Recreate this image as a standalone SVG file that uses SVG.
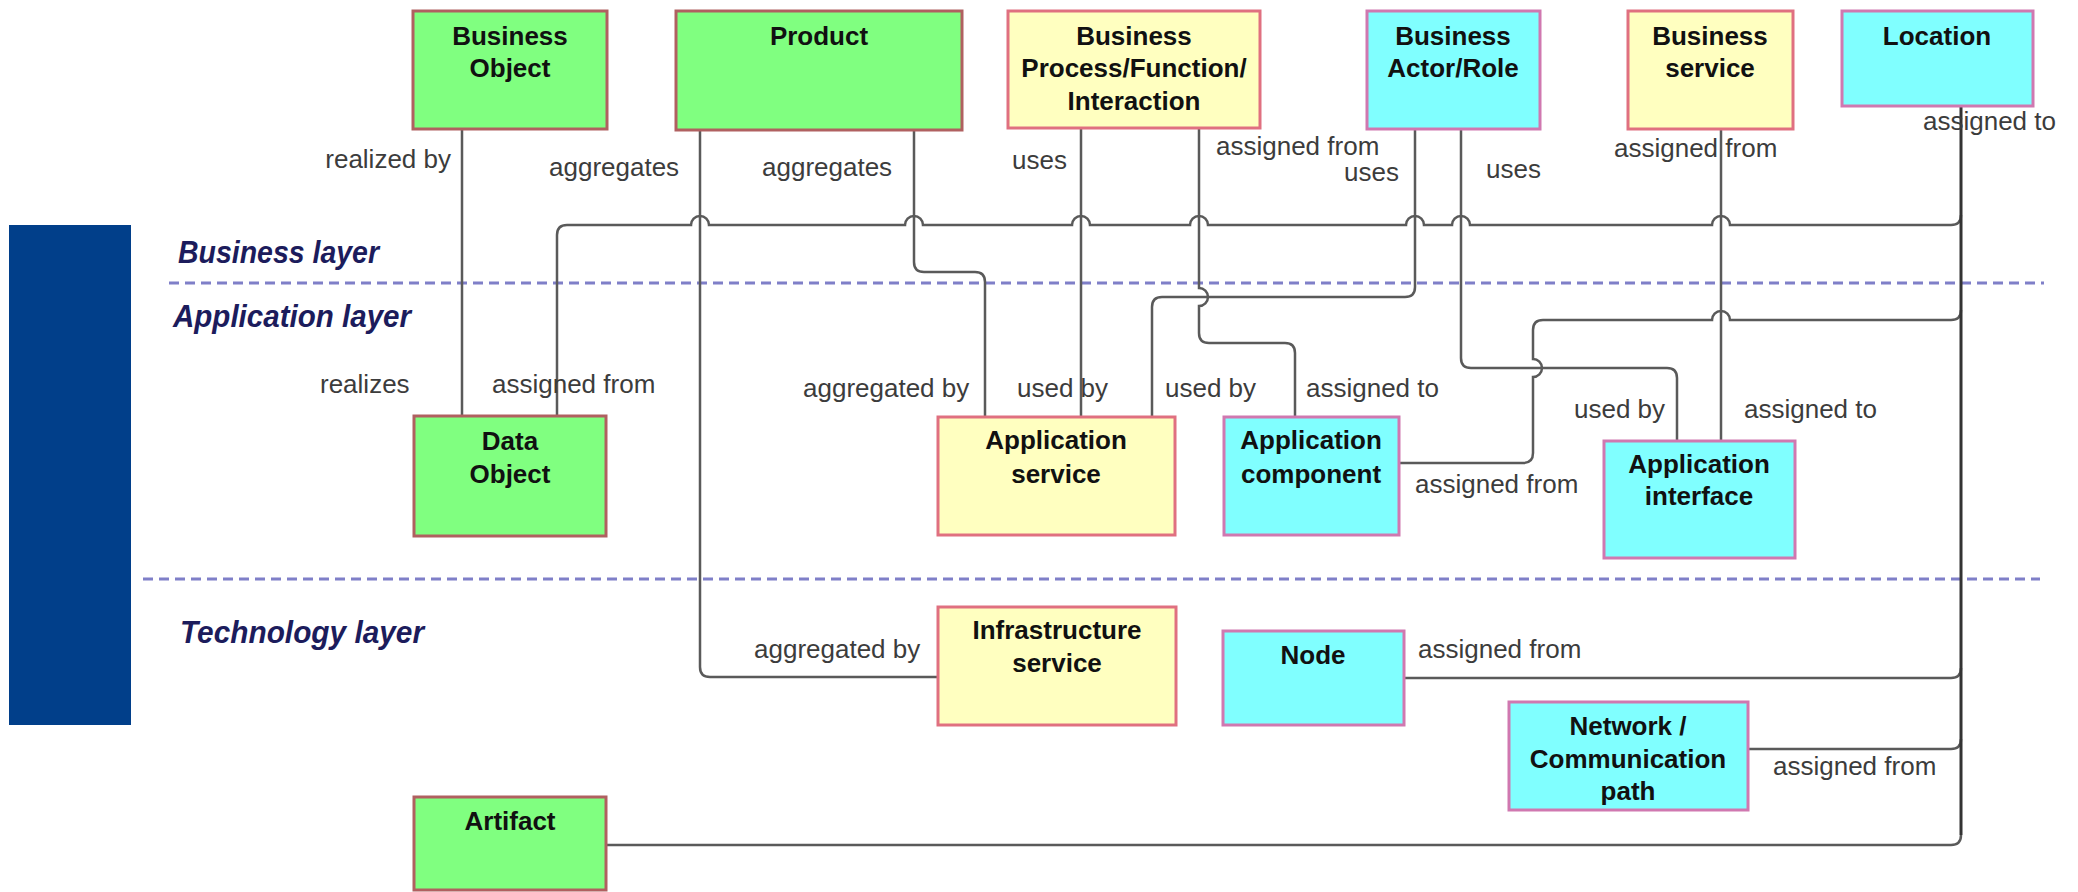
<svg xmlns="http://www.w3.org/2000/svg" width="2078" height="892" viewBox="0 0 2078 892">
<style>
.g{fill:#80FF80;stroke:#B06060;stroke-width:3}
.y{fill:#FFFFC0;stroke:#E07080;stroke-width:3}
.c{fill:#80FFFF;stroke:#D078B0;stroke-width:3}
.t{font-family:"Liberation Sans",Arial,sans-serif;font-weight:bold;font-size:26px;fill:#111;text-anchor:middle}
.l{font-family:"Liberation Sans",Arial,sans-serif;font-size:26px;fill:#3c3c3c}
.ly{font-family:"Liberation Sans",Arial,sans-serif;font-weight:bold;font-style:italic;font-size:31px;fill:#1c1c5c}
.cn{fill:none;stroke:#5a5a5a;stroke-width:2.5}
.loc{fill:none;stroke:#333;stroke-width:3}
.dash{stroke:#7F7FC8;stroke-width:3;stroke-dasharray:10 6}
</style>
<rect width="2078" height="892" fill="#fff"/>
<rect x="9" y="225" width="122" height="500" fill="#013F8A"/>
<line class="dash" x1="169" y1="283" x2="2044" y2="283"/>
<line class="dash" x1="143" y1="579" x2="2040" y2="579"/>
<text class="ly" x="178" y="263" textLength="201" lengthAdjust="spacingAndGlyphs">Business layer</text>
<text class="ly" x="173" y="327" textLength="238" lengthAdjust="spacingAndGlyphs">Application layer</text>
<text class="ly" x="180" y="643" textLength="244" lengthAdjust="spacingAndGlyphs">Technology layer</text>
<g id="connectors">
<path class="cn" d="M 462 129 V 416"/>
<path class="cn" d="M 557 417 V 235 Q 557 225 567 225 H 691 A 9 9 0 0 1 709 225 H 905 A 9 9 0 0 1 923 225 H 1072 A 9 9 0 0 1 1090 225 H 1190 A 9 9 0 0 1 1208 225 H 1406 A 9 9 0 0 1 1424 225 H 1452 A 9 9 0 0 1 1470 225 H 1712 A 9 9 0 0 1 1730 225 H 1951 Q 1961 225 1961 215"/>
<path class="cn" d="M 700 130 V 667 Q 700 677 710 677 H 938"/>
<path class="cn" d="M 914 130 V 262 Q 914 272 924 272 H 975 Q 985 272 985 282 V 417"/>
<path class="cn" d="M 1081 128 V 417"/>
<path class="cn" d="M 1199 128 V 288 A 9 9 0 0 1 1199 306 V 333 Q 1199 343 1209 343 H 1285 Q 1295 343 1295 353 V 417"/>
<path class="cn" d="M 1415 129 V 287 Q 1415 297 1405 297 H 1162 Q 1152 297 1152 307 V 417"/>
<path class="cn" d="M 1461 129 V 358 Q 1461 368 1471 368 H 1667 Q 1677 368 1677 378 V 441"/>
<path class="cn" d="M 1721 129 V 441"/>
<path class="cn" d="M 1398 463 H 1523 Q 1533 463 1533 453 V 377 A 9 9 0 0 0 1533 359 V 330 Q 1533 320 1543 320 H 1712 A 9 9 0 0 1 1730 320 H 1951 Q 1961 320 1961 310"/>
<path class="cn" d="M 1404 678 H 1951 Q 1961 678 1961 668"/>
<path class="cn" d="M 1748 749 H 1951 Q 1961 749 1961 739"/>
<path class="cn" d="M 606 845 H 1951 Q 1961 845 1961 835"/>
<path class="loc" d="M 1961 106 V 835"/>
</g>
<g id="labels">
<text class="l" x="451" y="168" text-anchor="end">realized by</text>
<text class="l" x="549" y="176">aggregates</text>
<text class="l" x="762" y="176">aggregates</text>
<text class="l" x="1012" y="169">uses</text>
<text class="l" x="1216" y="155">assigned from</text>
<text class="l" x="1344" y="181">uses</text>
<text class="l" x="1486" y="178">uses</text>
<text class="l" x="1614" y="157">assigned from</text>
<text class="l" x="1923" y="130">assigned to</text>
<text class="l" x="320" y="393">realizes</text>
<text class="l" x="492" y="393">assigned from</text>
<text class="l" x="803" y="397">aggregated by</text>
<text class="l" x="1017" y="397">used by</text>
<text class="l" x="1165" y="397">used by</text>
<text class="l" x="1306" y="397">assigned to</text>
<text class="l" x="1574" y="418">used by</text>
<text class="l" x="1744" y="418">assigned to</text>
<text class="l" x="1415" y="493">assigned from</text>
<text class="l" x="754" y="658">aggregated by</text>
<text class="l" x="1418" y="658">assigned from</text>
<text class="l" x="1773" y="775">assigned from</text>
</g>
<g id="business-object"><rect class="g" x="413" y="11" width="194" height="118"/><text class="t" x="510" y="45">Business</text><text class="t" x="510" y="77">Object</text></g>
<g id="product"><rect class="g" x="676" y="11" width="286" height="119"/><text class="t" x="819" y="45">Product</text></g>
<g id="business-process"><rect class="y" x="1008" y="11" width="252" height="117"/><text class="t" x="1134" y="45">Business</text><text class="t" x="1134" y="77">Process/Function/</text><text class="t" x="1134" y="110">Interaction</text></g>
<g id="business-actor"><rect class="c" x="1367" y="11" width="173" height="118"/><text class="t" x="1453" y="45">Business</text><text class="t" x="1453" y="77">Actor/Role</text></g>
<g id="business-service"><rect class="y" x="1628" y="11" width="165" height="118"/><text class="t" x="1710" y="45">Business</text><text class="t" x="1710" y="77">service</text></g>
<g id="location"><rect class="c" x="1842" y="11" width="191" height="95"/><text class="t" x="1937" y="45">Location</text></g>
<g id="data-object"><rect class="g" x="414" y="416" width="192" height="120"/><text class="t" x="510" y="450">Data</text><text class="t" x="510" y="483">Object</text></g>
<g id="application-service"><rect class="y" x="938" y="417" width="237" height="118"/><text class="t" x="1056" y="449">Application</text><text class="t" x="1056" y="483">service</text></g>
<g id="application-component"><rect class="c" x="1224" y="417" width="175" height="118"/><text class="t" x="1311" y="449">Application</text><text class="t" x="1311" y="483">component</text></g>
<g id="application-interface"><rect class="c" x="1604" y="441" width="191" height="117"/><text class="t" x="1699" y="473">Application</text><text class="t" x="1699" y="505">interface</text></g>
<g id="infrastructure-service"><rect class="y" x="938" y="607" width="238" height="118"/><text class="t" x="1057" y="639">Infrastructure</text><text class="t" x="1057" y="672">service</text></g>
<g id="node"><rect class="c" x="1223" y="631" width="181" height="94"/><text class="t" x="1313" y="664">Node</text></g>
<g id="network"><rect class="c" x="1509" y="702" width="239" height="108"/><text class="t" x="1628" y="735">Network /</text><text class="t" x="1628" y="768">Communication</text><text class="t" x="1628" y="800">path</text></g>
<g id="artifact"><rect class="g" x="414" y="797" width="192" height="93"/><text class="t" x="510" y="830">Artifact</text></g>
</svg>
